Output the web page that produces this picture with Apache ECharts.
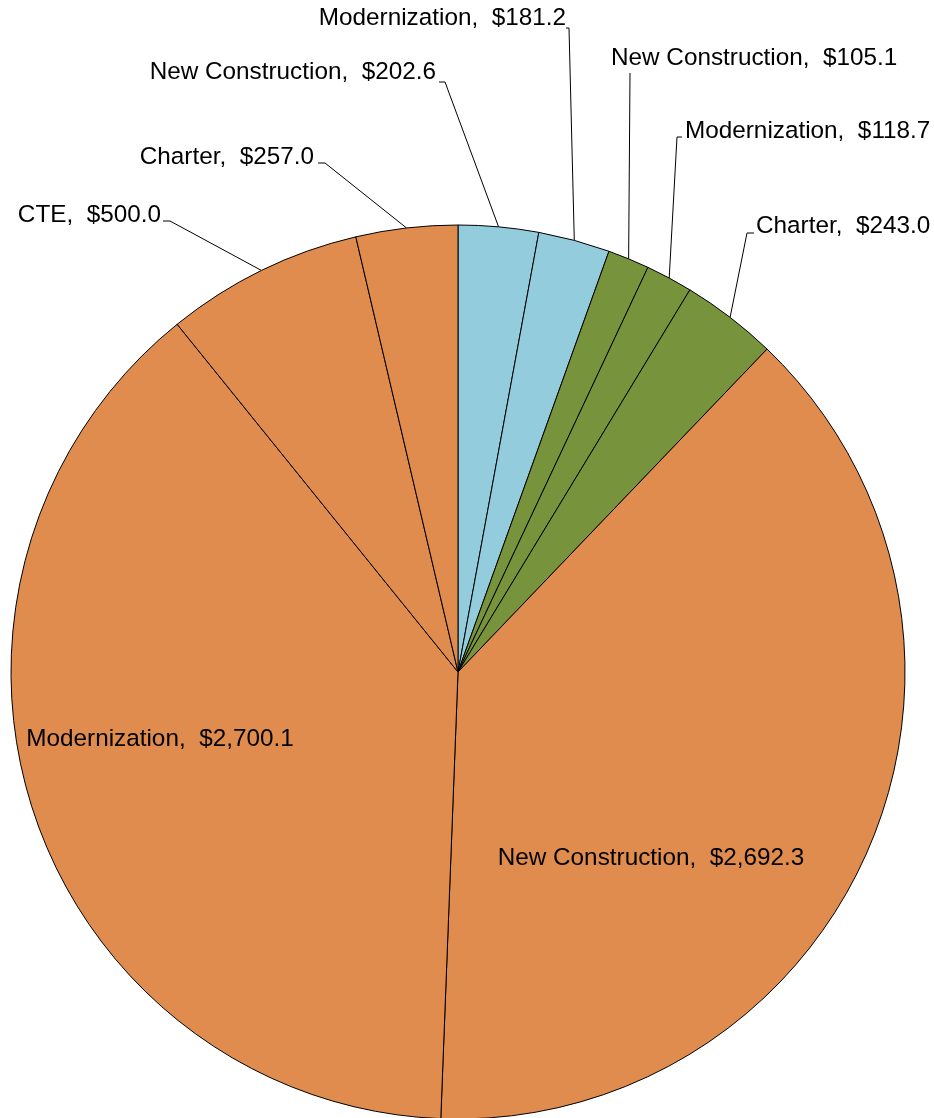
<!DOCTYPE html>
<html>
<head>
<meta charset="utf-8">
<script src="https://cdn.jsdelivr.net/npm/echarts@6/dist/echarts.min.js"></script>
<style>
html,body{margin:0;padding:0;background:#fff;}
#main{width:934px;height:1118px;}
</style>
</head>
<body>
<div id="main"></div>
<script>
// slices, clockwise from 12 o'clock
var categories=['New Construction','Modernization','New Construction','Modernization','Charter','New Construction','Modernization','CTE','Charter'];
var values=[202.6,181.2,105.1,118.7,243.0,2692.3,2700.1,500.0,257.0];
var groups=['blue','blue','green','green','green','orange','orange','orange','orange'];

var groupColor={blue:'#93CDDD',green:'#77933C',orange:'#E08C4F'};

// where each label sits (Excel-like placement) and the bend of its leader line
var labelSpots=[
    {x:436,y:72,align:'right',line:[[445,82],[439,82]]},
    {x:566,y:18,align:'right',line:[[569,28],[566,28]]},
    {x:611,y:58,align:'left',line:[[630,73]]},
    {x:685,y:131,align:'left',line:[[677,137],[682,137]]},
    {x:756,y:226,align:'left',line:[[747,233],[754,233]]},
    {x:651,y:858,align:'center',inside:true},
    {x:160,y:739,align:'center',inside:true},
    {x:161,y:215,align:'right',line:[[170,221],[163,221]]},
    {x:314,y:157,align:'right',line:[[325,163],[318,163]]}
];

function money(v){
    return '$'+v.toLocaleString('en-US',{minimumFractionDigits:1,maximumFractionDigits:1});
}

var pieData=[];
for(var i=0;i<values.length;i++){
    var item={
        name:categories[i],
        value:values[i],
        itemStyle:{color:groupColor[groups[i]]}
    };
    if(labelSpots[i].inside){
        item.label={position:'inside'};
        item.labelLine={show:false};
    }
    pieData.push(item);
}

var myChart=echarts.init(document.getElementById('main'),null,{renderer:'canvas'});
var option={
    animation:false,
    series:[{
        type:'pie',
        center:[458,672],
        radius:447,
        startAngle:90,
        clockwise:true,
        avoidLabelOverlap:false,
        emphasis:{disabled:true},
        itemStyle:{borderColor:'#000',borderWidth:1},
        label:{
            show:true,
            position:'outside',
            color:'#000',
            fontFamily:'Liberation Sans, Arial, sans-serif',
            fontSize:24.3,
            formatter:function(p){return p.name+',  '+money(p.value);}
        },
        labelLine:{
            show:true,
            length:10,
            length2:10,
            lineStyle:{color:'#000',width:1}
        },
        labelLayout:function(params){
            var s=labelSpots[params.dataIndex];
            var res={x:s.x,y:s.y,align:s.align,verticalAlign:'middle'};
            if(!s.inside && params.labelLinePoints){
                var pts=[params.labelLinePoints[0]];
                for(var k=0;k<s.line.length;k++){pts.push(s.line[k]);}
                if(pts.length<3){pts.push(s.line[s.line.length-1]);}
                res.labelLinePoints=pts;
            }
            return res;
        },
        data:pieData
    }]
};
myChart.setOption(option);
</script>
</body>
</html>
